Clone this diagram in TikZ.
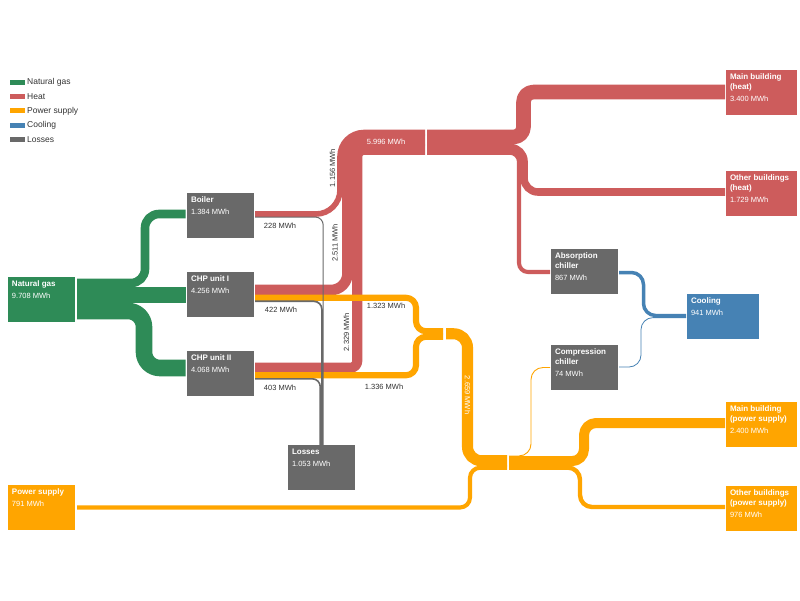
\documentclass[tikz,border=0pt]{standalone}
\usepackage{fontspec}
\setmainfont{Liberation Sans}
\usetikzlibrary{calc}
\definecolor{gas}{RGB}{46,139,87}
\definecolor{heat}{RGB}{205,92,92}
\definecolor{pow}{RGB}{255,165,0}
\definecolor{cool}{RGB}{70,130,180}
\definecolor{loss}{RGB}{105,105,105}
\definecolor{lbl}{RGB}{51,51,51}
\newcommand{\bxt}[3]{\begin{minipage}[t][38pt][t]{#1}\raggedright\fontsize{8}{10}\selectfont\bfseries #2\par\fontsize{7.5}{12.5}\selectfont\mdseries #3\end{minipage}}
\tikzset{
  box/.style={rectangle, anchor=north west, inner xsep=4pt, inner ysep=3.5pt, text=white, outer sep=0pt},
  flow/.style={line cap=butt, line join=round},
  gasf/.style={flow, draw=gas},
  heatf/.style={flow, draw=heat},
  powf/.style={flow, draw=pow},
  coolf/.style={flow, draw=cool},
  lossf/.style={flow, draw=loss},
  lab/.style={font=\fontsize{7.5}{9}\selectfont, text=lbl, inner sep=0pt},
  wlab/.style={lab, text=white},
  swatch/.style={rectangle, minimum width=15pt, minimum height=5pt, inner sep=0pt},
  legtxt/.style={anchor=west, inner sep=0pt, font=\fontsize{8.5}{10}\selectfont, text=lbl},
}
\begin{document}
\begin{tikzpicture}[x=1pt,y=-1pt]
\fill[white] (0,0) rectangle (800,600);
\useasboundingbox (0,0) rectangle (800,600);

% legend
\node[swatch, fill=gas]  (sw1) at (17.5,82.5) {};
\node[legtxt] (lg1) at (27,82.5) {Natural gas};
\node[swatch, fill=heat] (sw2) at (17.5,96.7) {};
\node[legtxt] (lg2) at (27,96.7) {Heat};
\node[swatch, fill=pow]  (sw3) at (17.5,110.9) {};
\node[legtxt] (lg3) at (27,110.9) {Power supply};
\node[swatch, fill=cool] (sw4) at (17.5,125.1) {};
\node[legtxt] (lg4) at (27,125.1) {Cooling};
\node[swatch, fill=loss] (sw5) at (17.5,139.3) {};
\node[legtxt] (lg5) at (27,139.3) {Losses};

% boxes
\node[box, fill=gas]  (ng)       at (8,277)   {\bxt{59pt}{Natural gas}{9.708 MWh}};
\node[box, fill=loss] (boiler)   at (187,193) {\bxt{59pt}{Boiler}{1.384 MWh}};
\node[box, fill=loss] (chp1)     at (187,272) {\bxt{59pt}{CHP unit I}{4.256 MWh}};
\node[box, fill=loss] (chp2)     at (187,351) {\bxt{59pt}{CHP unit II}{4.068 MWh}};
\node[box, fill=loss] (losses)   at (288,445) {\bxt{59pt}{Losses}{1.053 MWh}};
\node[box, fill=loss] (absorb)   at (551,249) {\bxt{59pt}{Absorption\\chiller}{867 MWh}};
\node[box, fill=loss] (compress) at (551,345) {\bxt{59pt}{Compression\\chiller}{74 MWh}};
\node[box, fill=cool] (cooling)  at (687,294) {\bxt{64pt}{Cooling}{941 MWh}};
\node[box, fill=heat] (mainheat)  at (726,70)  {\bxt{63pt}{Main building\\(heat)}{3.400 MWh}};
\node[box, fill=heat] (otherheat) at (726,171) {\bxt{63pt}{Other buildings\\(heat)}{1.729 MWh}};
\node[box, fill=pow]  (mainpow)   at (726,402) {\bxt{63pt}{Main building\\(power supply)}{2.400 MWh}};
\node[box, fill=pow]  (otherpow)  at (726,486) {\bxt{63pt}{Other buildings\\(power supply)}{976 MWh}};
\node[box, fill=pow]  (power)     at (8,485)   {\bxt{59pt}{Power supply}{791 MWh}};

% junction coordinates
\coordinate (heatL) at (425,130);
\coordinate (heatR) at (427,130);
\coordinate (powL) at (443,328.5);
\coordinate (powR) at (446,328.5);
\coordinate (elecL) at (507,455.5);
\coordinate (elecR) at (509,455.5);

% natural gas
\draw[gasf, line width=8.6pt, rounded corners=14] ($(ng.north east)+(2,6)$) -- (145,283) -- (145,214) -- ($(boiler.north west)+(-1.5,21)$);
\draw[gasf, line width=16.6pt] ($(ng.north east)+(2,18)$) -- ($(chp1.north west)+(-1.5,23)$);
\draw[gasf, line width=16.6pt, rounded corners=16] ($(ng.north east)+(2,34)$) -- (144,311) -- (144,368) -- ($(chp2.north west)+(-1.5,17)$);

% heat
\draw[heatf, line width=5.6pt, rounded corners=24] ($(boiler.north east)+(1,21)$) -- (340,214) -- (340,132.5) -- ($(heatL)+(0,2.5)$);
\draw[heatf, line width=10.6pt, rounded corners=16.5] ($(chp1.north east)+(1,18)$) -- (347.5,290) -- (347.5,140) -- ($(heatL)+(0,10)$);
\draw[heatf, line width=10.1pt, rounded corners=6.75] ($(chp2.north east)+(1,16.75)$) -- (357.25,367.75) -- (357.25,149.75) -- ($(heatL)+(0,19.75)$);
\draw[heatf, line width=14.6pt, rounded corners=10] ($(heatR)+(0,7)$) -- (523.5,137) -- (523.5,92) -- ($(mainheat.north west)+(-1,22)$);
\draw[heatf, line width=7.6pt, rounded corners=14] ($(heatR)+(0,17.5)$) -- (524,147.5) -- (524,192) -- ($(otherheat.north west)+(-1,21)$);
\draw[heatf, line width=4.1pt, rounded corners=9] ($(heatR)+(0,22.75)$) -- (519,152.75) -- (519,272) -- ($(absorb.north west)+(-1,23)$);

% power
\draw[powf, line width=6.1pt, rounded corners=10] ($(chp1.north east)+(1,25.75)$) -- (416,297.75) -- (416,331.25) -- ($(powL)+(0,2.75)$);
\draw[powf, line width=6.1pt, rounded corners=10] ($(chp2.north east)+(1,24.25)$) -- (416,375.25) -- (416,336.75) -- ($(powL)+(0,8.25)$);
\draw[powf, line width=11.1pt, rounded corners=14] ($(powR)+(0,5.25)$) -- (467.5,333.75) -- (467.5,460.75) -- ($(elecL)+(0,5.25)$);
\draw[powf, line width=4.1pt, rounded corners=10] ($(power.north east)+(2,22.5)$) -- (470,507.5) -- (470,467.75) -- ($(elecL)+(0,12.25)$);
\draw[powf, line width=0.9pt, rounded corners=12] ($(elecR)+(0,0.45)$) -- (531,455.95) -- (531,367.5) -- ($(compress.north west)+(-1,22.5)$);
\draw[powf, line width=10pt, rounded corners=12] ($(elecR)+(0,5.6)$) -- (584,461.1) -- (584,423) -- ($(mainpow.north west)+(-1,21)$);
\draw[powf, line width=4.4pt, rounded corners=12] ($(elecR)+(0,12.1)$) -- (580,467.6) -- (580,507) -- ($(otherpow.north west)+(-1,21)$);

% losses
\draw[lossf, line width=1pt, rounded corners=8] ($(boiler.north east)+(1,24)$) -- (323.2,217) -- (323.2,0 |- losses.north);
\draw[lossf, line width=1.7pt, rounded corners=8] ($(chp1.north east)+(1,29.3)$) -- (321.9,301.3) -- (321.9,0 |- losses.north);
\draw[lossf, line width=1.6pt, rounded corners=8] ($(chp2.north east)+(1,27.8)$) -- (320.25,378.8) -- (320.25,0 |- losses.north);

% cooling
\draw[coolf, line width=3.5pt, rounded corners=12] ($(absorb.north east)+(1,23.5)$) -- (643.5,272.5) -- (643.5,315.5) -- ($(cooling.north west)+(-1,21.5)$);
\draw[coolf, line width=0.8pt, rounded corners=12] ($(compress.north east)+(1,22)$) -- (641,367) -- (641,317.6) -- ($(cooling.north west)+(-1,23.6)$);

% labels
\node[lab] (l228) at (280,226) {228 MWh};
\node[lab] (l422) at (281,310) {422 MWh};
\node[lab] (l403) at (280,388) {403 MWh};
\node[lab] (l1323) at (386,306) {1.323 MWh};
\node[lab] (l1336) at (384,387) {1.336 MWh};
\node[lab, rotate=90] (l1156) at (332.5,168) {1.156 MWh};
\node[lab, rotate=90] (l2511) at (335,243) {2.511 MWh};
\node[lab, rotate=90] (l2329) at (346.5,332) {2.329 MWh};
\node[wlab] (l5996) at (386,141.5) {5.996 MWh};
\node[wlab, rotate=-90] (l2659) at (467.5,395) {2.659 MWh};
\end{tikzpicture}
\end{document}
